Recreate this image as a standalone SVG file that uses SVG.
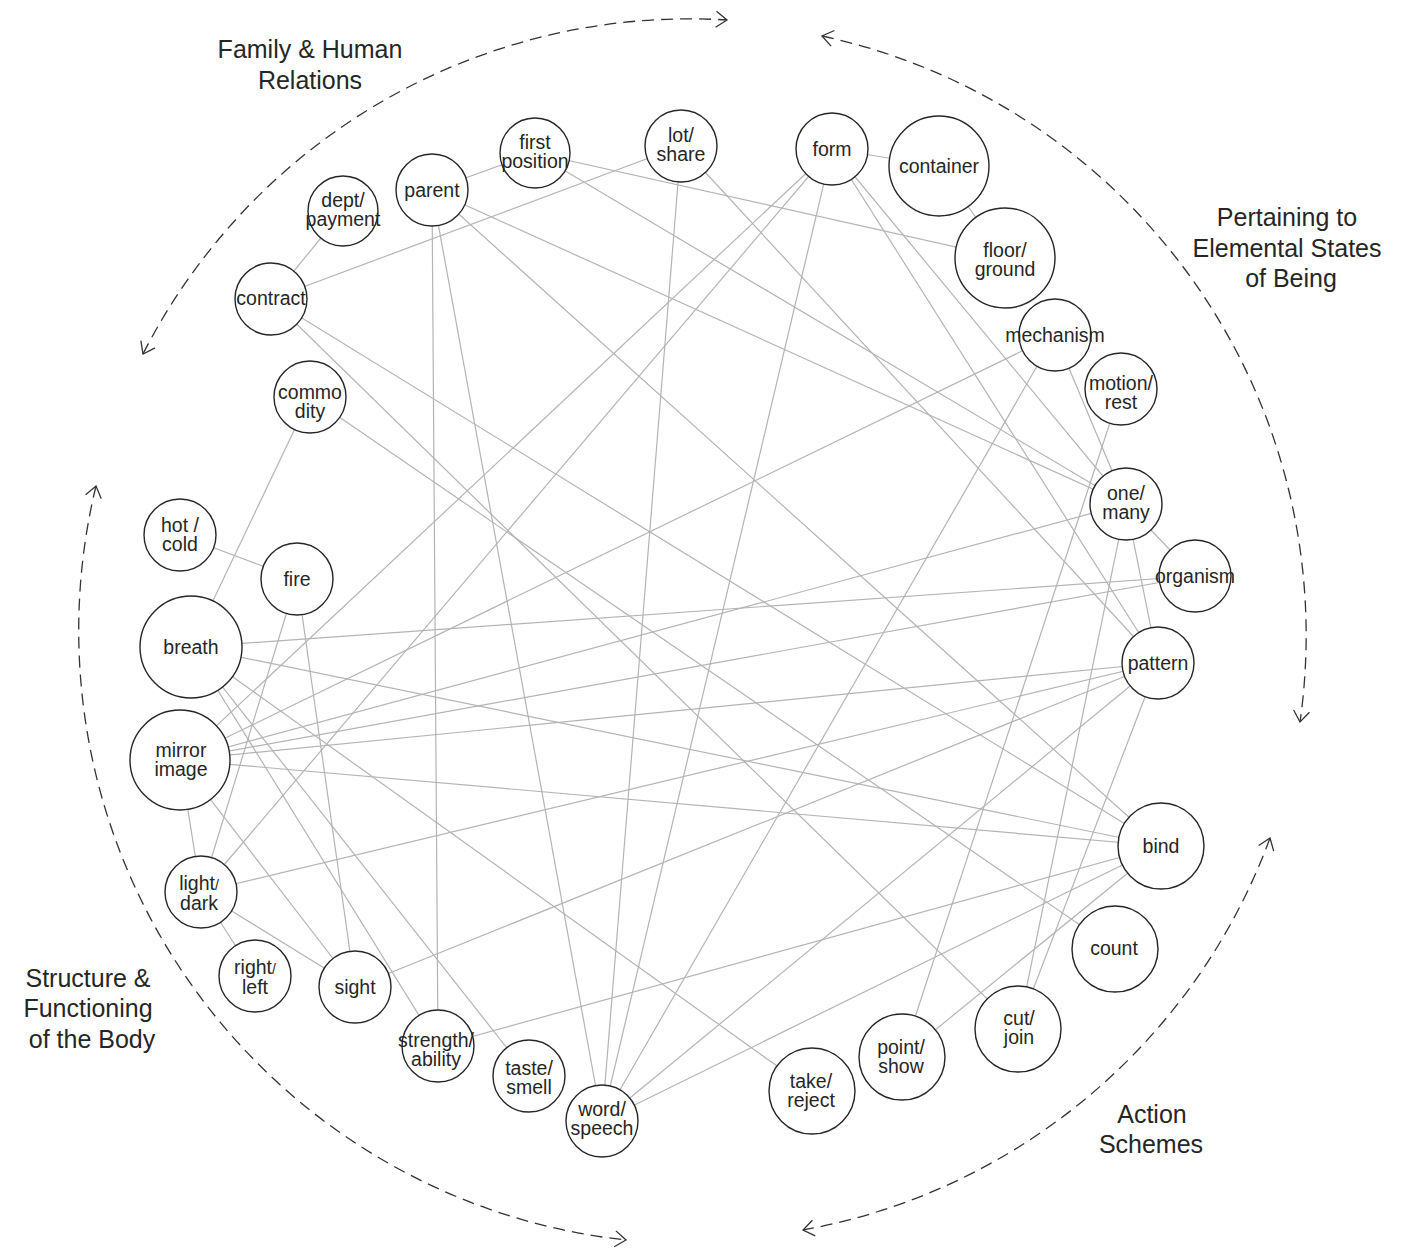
<svg xmlns="http://www.w3.org/2000/svg" width="1412" height="1249" viewBox="0 0 1412 1249">
  <style>
    .edge { stroke: #b4b4b4; stroke-width: 1.2; fill: none; }
    .node circle { fill: #ffffff; stroke: #262626; stroke-width: 1.4; }
    .node text { font-family: "Liberation Sans", Arial, sans-serif; font-size: 19.5px; fill: #262626; text-anchor: middle; }
    .sm { font-size: 14px; }
    .arc { fill: none; stroke: #333333; stroke-width: 1.3; stroke-dasharray: 12 7; }
    .cat { font-family: "Liberation Sans", Arial, sans-serif; font-size: 25px; fill: #262626; text-anchor: middle; }
  </style>
  <defs>
    <marker id="chev" markerUnits="userSpaceOnUse" viewBox="0 0 16 18" markerWidth="16" markerHeight="18" refX="14" refY="9" orient="auto-start-reverse">
      <path d="M3,1 L14,9 L3,17" fill="none" stroke="#333333" stroke-width="1.3" stroke-dasharray="none"/>
    </marker>
  </defs>
  <rect width="1412" height="1249" fill="#ffffff"/>

  <!-- category arcs -->
  <g id="arcs">
    <path class="arc" d="M143,354 A613,613 0 0 1 727,20" marker-start="url(#chev)" marker-end="url(#chev)"/>
    <path class="arc" d="M822,36 A613,613 0 0 1 1300,722" marker-start="url(#chev)" marker-end="url(#chev)"/>
    <path class="arc" d="M1270,838 A613,613 0 0 1 803,1230" marker-start="url(#chev)" marker-end="url(#chev)"/>
    <path class="arc" d="M96,486 A613,613 0 0 0 626,1240" marker-start="url(#chev)" marker-end="url(#chev)"/>
  </g>

  <!-- category labels -->
  <g id="labels">
    <text class="cat" x="310" y="58">Family &amp; Human<tspan x="310" dy="31">Relations</tspan></text>
    <text class="cat" x="1287" y="226">Pertaining to<tspan x="1287" dy="31">Elemental States</tspan><tspan x="1291" dy="30">of Being</tspan></text>
    <text class="cat" x="88" y="987">Structure &amp;<tspan x="88" dy="30">Functioning</tspan><tspan x="92" dy="31">of the Body</tspan></text>
    <text class="cat" x="1152" y="1123">Action<tspan x="1151" dy="30">Schemes</tspan></text>
  </g>

  <!-- connectors -->
  <g id="edges">
    <line class="edge" x1="343" y1="211" x2="271" y2="299"/>
    <line class="edge" x1="271" y1="299" x2="681" y2="146"/>
    <line class="edge" x1="271" y1="299" x2="1018" y2="1029"/>
    <line class="edge" x1="271" y1="299" x2="1161" y2="846"/>
    <line class="edge" x1="432" y1="190" x2="535" y2="153"/>
    <line class="edge" x1="432" y1="190" x2="438" y2="1046"/>
    <line class="edge" x1="432" y1="190" x2="602" y2="1121"/>
    <line class="edge" x1="432" y1="190" x2="1126" y2="504"/>
    <line class="edge" x1="432" y1="190" x2="1161" y2="846"/>
    <line class="edge" x1="535" y1="153" x2="1005" y2="258"/>
    <line class="edge" x1="535" y1="153" x2="1126" y2="504"/>
    <line class="edge" x1="681" y1="146" x2="602" y2="1121"/>
    <line class="edge" x1="681" y1="146" x2="1158" y2="663"/>
    <line class="edge" x1="832" y1="149" x2="939" y2="166"/>
    <line class="edge" x1="832" y1="149" x2="602" y2="1121"/>
    <line class="edge" x1="832" y1="149" x2="180" y2="760"/>
    <line class="edge" x1="832" y1="149" x2="201" y2="892"/>
    <line class="edge" x1="832" y1="149" x2="1126" y2="504"/>
    <line class="edge" x1="832" y1="149" x2="1158" y2="663"/>
    <line class="edge" x1="939" y1="166" x2="1005" y2="258"/>
    <line class="edge" x1="1055" y1="335" x2="180" y2="760"/>
    <line class="edge" x1="1055" y1="335" x2="602" y2="1121"/>
    <line class="edge" x1="1055" y1="335" x2="1126" y2="504"/>
    <line class="edge" x1="1121" y1="389" x2="902" y2="1057"/>
    <line class="edge" x1="1126" y1="504" x2="1195" y2="576"/>
    <line class="edge" x1="1126" y1="504" x2="1158" y2="663"/>
    <line class="edge" x1="1126" y1="504" x2="1018" y2="1029"/>
    <line class="edge" x1="1126" y1="504" x2="180" y2="760"/>
    <line class="edge" x1="1195" y1="576" x2="191" y2="647"/>
    <line class="edge" x1="1195" y1="576" x2="180" y2="760"/>
    <line class="edge" x1="1158" y1="663" x2="180" y2="760"/>
    <line class="edge" x1="1158" y1="663" x2="201" y2="892"/>
    <line class="edge" x1="1158" y1="663" x2="355" y2="987"/>
    <line class="edge" x1="1158" y1="663" x2="602" y2="1121"/>
    <line class="edge" x1="1158" y1="663" x2="1018" y2="1029"/>
    <line class="edge" x1="1161" y1="846" x2="191" y2="647"/>
    <line class="edge" x1="1161" y1="846" x2="180" y2="760"/>
    <line class="edge" x1="1161" y1="846" x2="438" y2="1046"/>
    <line class="edge" x1="1161" y1="846" x2="602" y2="1121"/>
    <line class="edge" x1="1161" y1="846" x2="902" y2="1057"/>
    <line class="edge" x1="1115" y1="949" x2="310" y2="397"/>
    <line class="edge" x1="812" y1="1091" x2="191" y2="647"/>
    <line class="edge" x1="529" y1="1076" x2="191" y2="647"/>
    <line class="edge" x1="438" y1="1046" x2="191" y2="647"/>
    <line class="edge" x1="355" y1="987" x2="297" y2="579"/>
    <line class="edge" x1="355" y1="987" x2="180" y2="760"/>
    <line class="edge" x1="355" y1="987" x2="201" y2="892"/>
    <line class="edge" x1="255" y1="976" x2="201" y2="892"/>
    <line class="edge" x1="201" y1="892" x2="180" y2="760"/>
    <line class="edge" x1="201" y1="892" x2="297" y2="579"/>
    <line class="edge" x1="297" y1="579" x2="180" y2="535"/>
    <line class="edge" x1="310" y1="397" x2="191" y2="647"/>
  </g>

  <!-- nodes -->
  <g id="n-first-position" class="node"><circle cx="535" cy="153" r="35"/><text x="535" y="149">first<tspan x="535" dy="19">position</tspan></text></g>
  <g id="n-parent" class="node"><circle cx="432" cy="190" r="36"/><text x="432" y="197">parent</text></g>
  <g id="n-dept-payment" class="node"><circle cx="343" cy="211" r="35"/><text x="343" y="207">dept/<tspan x="343" dy="19">payment</tspan></text></g>
  <g id="n-contract" class="node"><circle cx="271" cy="299" r="36"/><text x="271" y="305">contract</text></g>
  <g id="n-lot-share" class="node"><circle cx="681" cy="146" r="36"/><text x="681" y="142">lot/<tspan x="681" dy="19">share</tspan></text></g>
  <g id="n-form" class="node"><circle cx="832" cy="149" r="36"/><text x="832" y="156">form</text></g>
  <g id="n-container" class="node"><circle cx="939" cy="166" r="50"/><text x="939" y="173">container</text></g>
  <g id="n-floor-ground" class="node"><circle cx="1005" cy="258" r="50"/><text x="1005" y="257">floor/<tspan x="1005" dy="19">ground</tspan></text></g>
  <g id="n-mechanism" class="node"><circle cx="1055" cy="335" r="36"/><text x="1055" y="342">mechanism</text></g>
  <g id="n-motion-rest" class="node"><circle cx="1121" cy="389" r="36"/><text x="1121" y="390">motion/<tspan x="1121" dy="19">rest</tspan></text></g>
  <g id="n-one-many" class="node"><circle cx="1126" cy="504" r="36"/><text x="1126" y="500">one/<tspan x="1126" dy="19">many</tspan></text></g>
  <g id="n-organism" class="node"><circle cx="1195" cy="576" r="36"/><text x="1195" y="583">organism</text></g>
  <g id="n-pattern" class="node"><circle cx="1158" cy="663" r="36"/><text x="1158" y="670">pattern</text></g>
  <g id="n-bind" class="node"><circle cx="1161" cy="846" r="43"/><text x="1161" y="853">bind</text></g>
  <g id="n-count" class="node"><circle cx="1115" cy="949" r="43"/><text x="1114" y="955">count</text></g>
  <g id="n-cut-join" class="node"><circle cx="1018" cy="1029" r="43"/><text x="1019" y="1025">cut/<tspan x="1019" dy="19">join</tspan></text></g>
  <g id="n-point-show" class="node"><circle cx="902" cy="1057" r="43"/><text x="901" y="1054">point/<tspan x="901" dy="19">show</tspan></text></g>
  <g id="n-take-reject" class="node"><circle cx="812" cy="1091" r="43"/><text x="811" y="1088">take/<tspan x="811" dy="19">reject</tspan></text></g>
  <g id="n-word-speech" class="node"><circle cx="602" cy="1121" r="36"/><text x="602" y="1116">word/<tspan x="602" dy="19">speech</tspan></text></g>
  <g id="n-taste-smell" class="node"><circle cx="529" cy="1076" r="36"/><text x="529" y="1075">taste/<tspan x="529" dy="19">smell</tspan></text></g>
  <g id="n-strength-ability" class="node"><circle cx="438" cy="1046" r="36"/><text x="436" y="1047">strength/<tspan x="436" dy="19">ability</tspan></text></g>
  <g id="n-sight" class="node"><circle cx="355" cy="987" r="36"/><text x="355" y="994">sight</text></g>
  <g id="n-right-left" class="node"><circle cx="255" cy="976" r="36"/><text x="255" y="974">right<tspan class="sm">/</tspan><tspan x="255" dy="20">left</tspan></text></g>
  <g id="n-light-dark" class="node"><circle cx="201" cy="892" r="36"/><text x="199" y="890">light<tspan class="sm">/</tspan><tspan x="199" dy="20">dark</tspan></text></g>
  <g id="n-mirror-image" class="node"><circle cx="180" cy="760" r="50"/><text x="181" y="757">mirror<tspan x="181" dy="19">image</tspan></text></g>
  <g id="n-breath" class="node"><circle cx="191" cy="647" r="51"/><text x="191" y="654">breath</text></g>
  <g id="n-fire" class="node"><circle cx="297" cy="579" r="36"/><text x="297" y="586">fire</text></g>
  <g id="n-hot-cold" class="node"><circle cx="180" cy="535" r="36"/><text x="180" y="532">hot /<tspan x="180" dy="19">cold</tspan></text></g>
  <g id="n-commodity" class="node"><circle cx="310" cy="397" r="36"/><text x="310" y="399">commo<tspan x="310" dy="19">dity</tspan></text></g>
</svg>
